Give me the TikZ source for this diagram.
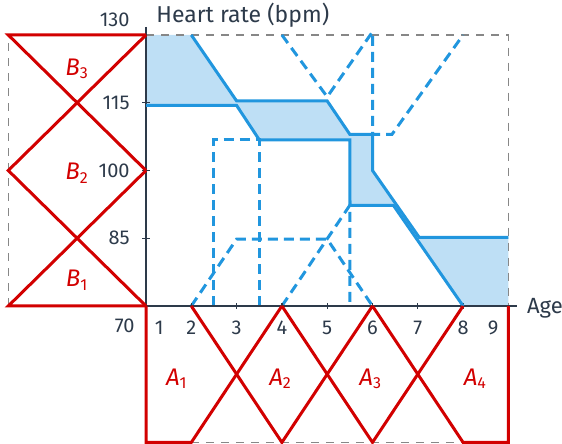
\documentclass[tikz,border=0pt]{standalone}
\usepackage{fontspec}
\setmainfont{Fira Sans}
\usepackage{tikz}
\usetikzlibrary{calc}
\definecolor{SetRed}{RGB}{210,0,0}
\definecolor{RateBlue}{RGB}{33,150,222}
\definecolor{RateFill}{RGB}{190,223,245}
\definecolor{AxisGray}{RGB}{45,58,74}
\definecolor{FrameGray}{RGB}{135,135,135}
\newcommand{\setname}[2]{\textit{#1}\textsubscript{#2}}

\begin{document}
\begin{tikzpicture}[x=22.65pt, y=2.2585pt,
		setline/.style={SetRed, line width=1.5pt},
		rateline/.style={RateBlue, line width=1.5pt},
		guideline/.style={RateBlue, line width=1.5pt, dash pattern=on 5pt off 3pt},
		frameline/.style={FrameGray, line width=0.6pt, dash pattern=on 4pt off 3.5pt},
		ticklabel/.style={AxisGray, inner sep=0pt, font=\fontsize{10}{12}\selectfont},
		setlabel/.style={SetRed, inner sep=0pt, anchor=base, font=\fontsize{12}{14}\selectfont}]
		\pgfmathsetmacro{\mB}{-2.04}
		\pgfmathsetmacro{\mA}{39.8}
		\pgfmathsetmacro{\mid}{(\mB+1)/2}
		
		% 固定画布范围
		\useasboundingbox (-2.223,137.744) rectangle (10.183,39.449);
		
		\coordinate (O) at (1,70);
		\coordinate (T) at (1,131.8);
		\coordinate (E) at (9.19,70);
		
		% 上下两条输出边界之间的阴影
		\fill[RateFill] (1,130) -- (2,130) -- (3,115.4) -- (5,115.4) -- (5.5,108) -- (6,108)
			-- (6,100) -- (7.03,85.2) -- (9,85.2) -- (9,70) -- (8,70) -- (6.46,92.3)
			-- (5.5,92.3) -- (5.5,106.8) -- (3.5,106.8) -- (3,114.4) -- (1,114.4) -- cycle;
		
		\draw[frameline] (\mB,70) -- (\mB,130);
		\draw[frameline] (1,130) -- (9,130) -- (9,70);
		\draw[frameline] (1,\mA) -- (9,\mA);
		
		% 辅助虚线
		\draw[guideline] (4,130) -- (5,116.3) -- (6,130.7) -- (6,108) -- (6.43,108) -- (8,130);
		\draw[guideline] (2.5,70) -- (2.5,106.8) -- (3.5,106.8) -- (3.5,70);
		\draw[guideline] (2,70) -- (3,84.8) -- (5,84.8) -- (6,70);
		\draw[guideline] (4,70) -- (5.5,92.3) -- (5.5,70);
		
		\draw[AxisGray, line width=0.6pt] (T) -- (O) -- (E);
		\foreach \b in {85,100,115}
			\draw[AxisGray, line width=0.6pt] (1,\b) ++(-2pt,0) -- ++(4pt,0);
		\foreach \a in {2,...,8}
			\draw[AxisGray, line width=0.6pt] (\a,70) ++(0,-1.5pt) -- ++(0,3pt);
		
		\draw[rateline] (2,130) -- (3,115.4) -- (5,115.4) -- (5.5,108) -- (6,108)
			-- (6,100) -- (7.03,85.2) -- (9,85.2);
		\draw[rateline] (1,114.4) -- (3,114.4) -- (3.5,106.8) -- (5.5,106.8)
			-- (5.5,92.3) -- (6.46,92.3) -- (8,70);
		
		% 隶属函数 B（左）与 A（下）
		\draw[setline] (1,70) -- (\mB,70) -- (1,100);
		\draw[setline] (1,70) -- (\mB,100) -- (1,130);
		\draw[setline] (1,100) -- (\mB,130) -- (1,130);
		\draw[setline] (1,70) -- (1,\mA) -- (2,\mA) -- (4,70);
		\draw[setline] (2,70) -- (4,\mA) -- (6,70);
		\draw[setline] (4,70) -- (6,\mA) -- (8,70);
		\draw[setline] (6,70) -- (8,\mA) -- (9,\mA) -- (9,70);
		
		\node[setlabel] (B3) at (\mid,121.1) {\setname{B}{3}};
		\node[setlabel] (B2) at (\mid,97.9) {\setname{B}{2}};
		\node[setlabel] (B1) at (\mid,74.3) {\setname{B}{1}};
		\node[setlabel] (A1) at (1.68,52.5) {\setname{A}{1}};
		\node[setlabel] (A2) at (3.97,52.5) {\setname{A}{2}};
		\node[setlabel] (A3) at (5.96,52.5) {\setname{A}{3}};
		\node[setlabel] (A4) at (8.27,52.5) {\setname{A}{4}};
		
		\node[ticklabel, anchor=base] (x1) at (1.29,63.6) {1};
		\foreach \a in {2,...,8}
			\node[ticklabel, anchor=base] (x\a) at (\a,63.6) {\a};
		\node[ticklabel, anchor=base] (x9) at (8.66,63.6) {9};
		\node[ticklabel, anchor=base east] (y70) at (0.757,64.1) {70};
		\foreach \b in {85,100,115}
			\node[ticklabel, anchor=east] (y\b) at (0.647,\b) {\b};
		\node[ticklabel, anchor=east] (y130) at (0.647,133.3) {130};
		
		\node[AxisGray, inner sep=0pt, anchor=base west, font=\fontsize{11.5}{14}\selectfont] (ytitle) at (1.22,132.7) {Heart rate (bpm)};
		\node[AxisGray, inner sep=0pt, anchor=base west, font=\fontsize{11}{13}\selectfont] (xtitle) at (9.404,68.38) {Age};
	\end{tikzpicture}
\end{document}
